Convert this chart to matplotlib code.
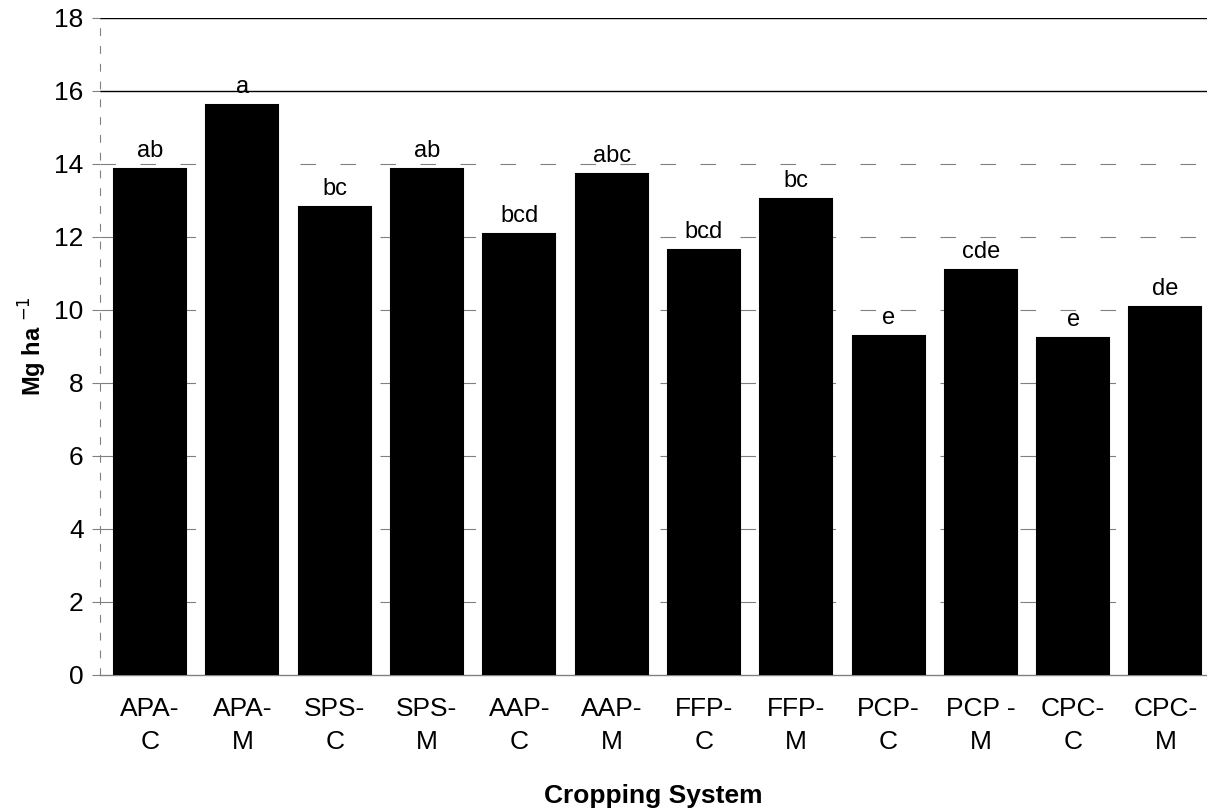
import matplotlib.pyplot as plt

plt.rcParams['font.family'] = ['Liberation Sans', 'DejaVu Sans']

systems = ["APA-\nC", "APA-\nM", "SPS-\nC", "SPS-\nM", "AAP-\nC", "AAP-\nM",
           "FFP-\nC", "FFP-\nM", "PCP-\nC", "PCP -\nM", "CPC-\nC", "CPC-\nM"]
yield_mg = [13.85, 15.62, 12.82, 13.86, 12.08, 13.72, 11.65, 13.03, 9.27, 11.08, 9.24, 10.07]
letters = ["ab", "a", "bc", "ab", "bcd", "abc", "bcd", "bc", "e", "cde", "e", "de"]
yticks = [0, 2, 4, 6, 8, 10, 12, 14, 16, 18]

fig = plt.figure(figsize=(12.07, 8.10), dpi=100)
ax = fig.add_axes([0.083, 0.167, 0.917, 0.811])

x = list(range(len(systems)))
ax.bar(x, yield_mg, width=0.78, color="black", edgecolor="black", linewidth=1.5, zorder=3)

for xi, v, t in zip(x, yield_mg, letters):
    ax.annotate(t, (xi, v), xytext=(0, 5), textcoords="offset points",
                ha="center", va="bottom", fontsize=17)

# faint dashed grid, solid at the top two lines
for yv in yticks[1:]:
    if yv >= 16:
        ax.axhline(yv, color="black", linewidth=1.0, zorder=1)
    else:
        ax.axhline(yv, color="gray", linewidth=0.8, dashes=(14, 22), zorder=1)

ax.set_xlim(-0.54, 11.45)
ax.set_ylim(0, 18)
ax.set_yticks(yticks)
ax.set_xticks(x)
ax.set_xticklabels(systems, fontsize=19, linespacing=1.45)
ax.tick_params(axis="y", labelsize=19, length=6, color="gray", pad=6)
ax.tick_params(axis="x", length=0, pad=16)

for s in ["top", "right"]:
    ax.spines[s].set_visible(False)
ax.spines["left"].set_color("gray")
ax.spines["left"].set_linestyle((0, (6, 10)))
ax.spines["left"].set_linewidth(0.8)
ax.spines["bottom"].set_color("gray")
ax.spines["bottom"].set_linewidth(1.0)

ax.set_ylabel("Mg ha $^{-1}$", fontsize=17, fontweight="bold", labelpad=4)
ax.set_xlabel("Cropping System", fontsize=19, fontweight="bold", labelpad=22)

fig.savefig("out.png", dpi=100)
